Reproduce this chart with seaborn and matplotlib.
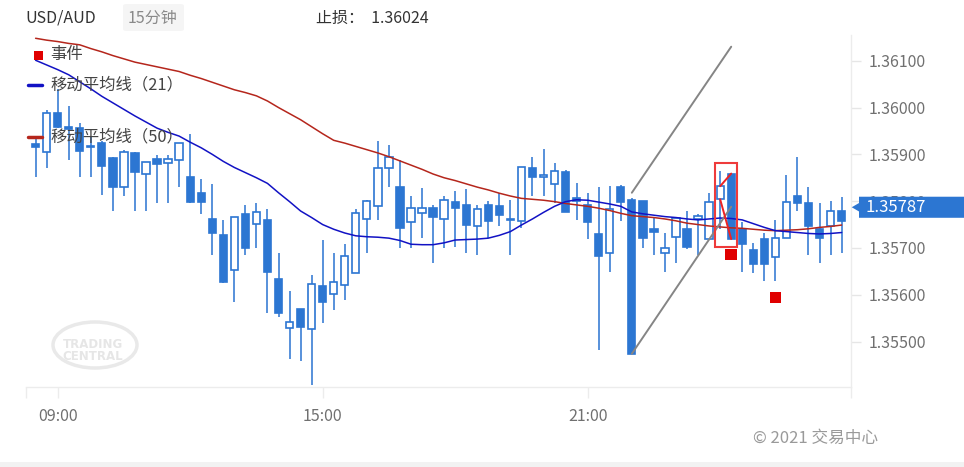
import matplotlib
matplotlib.use("Agg")
import matplotlib.pyplot as plt
import seaborn as sns
import pandas as pd
from matplotlib.patches import Rectangle, Ellipse, Polygon, FancyBboxPatch

# ---------------- data ----------------
candle_idx = list(range(-2, 72))  # 15-minute bars, 0 = 09:00
opens = [1.35922, 1.35906, 1.35989, 1.35957, 1.35957, 1.35918, 1.35925, 1.35893, 1.35831, 1.35903,
         1.35857, 1.35890, 1.35881, 1.35888, 1.35852, 1.35817, 1.35761, 1.35728, 1.35653, 1.35772,
         1.35751, 1.35760, 1.35634, 1.35529, 1.35569, 1.35526, 1.35619, 1.35601, 1.35621, 1.35647,
         1.35762, 1.35790, 1.35870, 1.35830, 1.35756, 1.35774, 1.35785, 1.35761, 1.35798, 1.35792,
         1.35746, 1.35792, 1.35790, 1.35761, 1.35758, 1.35870, 1.35851, 1.35837, 1.35863, 1.35807,
         1.35792, 1.35730, 1.35689, 1.35831, 1.35803, 1.35800, 1.35741, 1.35689, 1.35723, 1.35741,
         1.35761, 1.35719, 1.35804, 1.35859, 1.35740, 1.35696, 1.35719, 1.35680, 1.35721, 1.35811,
         1.35796, 1.35740, 1.35747, 1.35778]
highs = [1.35934, 1.35995, 1.36040, 1.36003, 1.35966, 1.35938, 1.35929, 1.35894, 1.35909, 1.35905,
         1.35884, 1.35899, 1.35899, 1.35924, 1.35943, 1.35847, 1.35836, 1.35760, 1.35767, 1.35792,
         1.35797, 1.35783, 1.35689, 1.35608, 1.35569, 1.35642, 1.35717, 1.35689, 1.35709, 1.35783,
         1.35802, 1.35929, 1.35920, 1.35887, 1.35811, 1.35828, 1.35792, 1.35811, 1.35822, 1.35826,
         1.35792, 1.35800, 1.35817, 1.35803, 1.35874, 1.35894, 1.35911, 1.35882, 1.35867, 1.35838,
         1.35817, 1.35830, 1.35832, 1.35835, 1.35807, 1.35800, 1.35764, 1.35731, 1.35764, 1.35780,
         1.35772, 1.35818, 1.35865, 1.35860, 1.35756, 1.35710, 1.35731, 1.35760, 1.35856, 1.35894,
         1.35831, 1.35797, 1.35801, 1.35808]
lows = [1.35852, 1.35870, 1.35956, 1.35888, 1.35852, 1.35851, 1.35813, 1.35780, 1.35810, 1.35778,
        1.35780, 1.35796, 1.35796, 1.35831, 1.35796, 1.35773, 1.35685, 1.35626, 1.35585, 1.35685,
        1.35699, 1.35561, 1.35553, 1.35463, 1.35459, 1.35408, 1.35539, 1.35568, 1.35589, 1.35647,
        1.35690, 1.35760, 1.35831, 1.35699, 1.35699, 1.35721, 1.35667, 1.35699, 1.35703, 1.35690,
        1.35685, 1.35721, 1.35746, 1.35685, 1.35742, 1.35811, 1.35811, 1.35796, 1.35776, 1.35760,
        1.35719, 1.35482, 1.35649, 1.35758, 1.35474, 1.35699, 1.35685, 1.35649, 1.35667, 1.35697,
        1.35685, 1.35719, 1.35741, 1.35719, 1.35649, 1.35647, 1.35630, 1.35630, 1.35721, 1.35778,
        1.35685, 1.35667, 1.35685, 1.35690]
closes = [1.35915, 1.35989, 1.35959, 1.35955, 1.35908, 1.35915, 1.35875, 1.35831, 1.35904, 1.35863,
          1.35884, 1.35879, 1.35890, 1.35924, 1.35798, 1.35799, 1.35733, 1.35628, 1.35767, 1.35699,
          1.35776, 1.35649, 1.35562, 1.35541, 1.35531, 1.35623, 1.35585, 1.35627, 1.35683, 1.35775,
          1.35800, 1.35870, 1.35894, 1.35742, 1.35786, 1.35785, 1.35766, 1.35803, 1.35785, 1.35749,
          1.35783, 1.35758, 1.35771, 1.35759, 1.35874, 1.35851, 1.35856, 1.35865, 1.35776, 1.35801,
          1.35756, 1.35683, 1.35783, 1.35799, 1.35474, 1.35721, 1.35735, 1.35699, 1.35764, 1.35702,
          1.35768, 1.35799, 1.35832, 1.35719, 1.35708, 1.35666, 1.35666, 1.35721, 1.35799, 1.35796,
          1.35747, 1.35721, 1.35778, 1.35758]
ma21 = [1.36101, 1.36091, 1.36081, 1.36070, 1.36055, 1.36040, 1.36024, 1.36010, 1.35996, 1.35982,
        1.35969, 1.35956, 1.35947, 1.35939, 1.35926, 1.35914, 1.35900, 1.35885, 1.35872, 1.35861,
        1.35850, 1.35838, 1.35818, 1.35799, 1.35779, 1.35765, 1.35750, 1.35740, 1.35732, 1.35726,
        1.35724, 1.35723, 1.35721, 1.35716, 1.35708, 1.35707, 1.35707, 1.35711, 1.35717, 1.35718,
        1.35719, 1.35721, 1.35727, 1.35735, 1.35749, 1.35762, 1.35776, 1.35789, 1.35799, 1.35803,
        1.35802, 1.35798, 1.35794, 1.35789, 1.35777, 1.35773, 1.35770, 1.35767, 1.35765, 1.35762,
        1.35760, 1.35762, 1.35764, 1.35763, 1.35760, 1.35752, 1.35744, 1.35737, 1.35735, 1.35733,
        1.35731, 1.35730, 1.35731, 1.35733]
ma50 = [1.36148, 1.36144, 1.36141, 1.36137, 1.36134, 1.36126, 1.36119, 1.36111, 1.36104, 1.36097,
        1.36092, 1.36087, 1.36082, 1.36077, 1.36069, 1.36062, 1.36054, 1.36046, 1.36038, 1.36032,
        1.36025, 1.36014, 1.36000, 1.35987, 1.35974, 1.35959, 1.35944, 1.35930, 1.35924, 1.35917,
        1.35910, 1.35903, 1.35895, 1.35886, 1.35877, 1.35868, 1.35858, 1.35850, 1.35844, 1.35837,
        1.35830, 1.35824, 1.35817, 1.35811, 1.35806, 1.35804, 1.35802, 1.35799, 1.35795, 1.35792,
        1.35789, 1.35785, 1.35780, 1.35774, 1.35769, 1.35767, 1.35765, 1.35762, 1.35758, 1.35753,
        1.35750, 1.35747, 1.35745, 1.35743, 1.35742, 1.35740, 1.35738, 1.35737, 1.35738, 1.35739,
        1.35741, 1.35744, 1.35746, 1.35749]
event_idx = [61, 65]
event_price = [1.35686, 1.35594]
trend_upper_idx = [52, 61]
trend_upper_price = [1.35818, 1.36130]
trend_lower_idx = [52, 61]
trend_lower_price = [1.35474, 1.35788]
pattern_bars = [60, 61]
pattern_box_idx = [59.55, 61.56]
pattern_box_price = [1.35703, 1.35882]
last_price = 1.35787
stop_loss = "1.36024"
y_ticks = [1.355, 1.356, 1.357, 1.358, 1.359, 1.360, 1.361]
x_tick_pos = [0, 24, 48]
x_tick_labels = ["09:00", "15:00", "21:00"]

# ---------------- style ----------------
sns.set_theme(style="white")
plt.rcParams['font.family'] = ['Noto Sans CJK SC', 'DejaVu Sans']

W, H = 964, 467
fig = plt.figure(figsize=(W / 100, H / 100), dpi=100)
fig.patch.set_facecolor("white")

def fx(px):
    return px / W

def fy(py):
    return 1 - py / H

ax = fig.add_axes([fx(26), fy(387), fx(825), 352 / H])
ax.set_facecolor("white")

blue = "#2c76d2"
wick_c = "#4a88d8"
df = pd.DataFrame({"i": candle_idx, "o": opens, "h": highs, "l": lows, "c": closes,
                   "ma21": ma21, "ma50": ma50})

bw = 0.66
min_h = 0.000035
for _, r in df.iterrows():
    ax.vlines(r.i, r.l, r.h, color=wick_c, lw=1.3, zorder=2)
    bottom = min(r.o, r.c)
    height = max(abs(r.c - r.o), min_h)
    bear = r.c < r.o
    ax.add_patch(Rectangle((r.i - bw / 2, bottom), bw, height,
                           facecolor=blue if bear else "white",
                           edgecolor=blue, lw=1.2, zorder=3))

sns.lineplot(data=df, x="i", y="ma50", color="#b5261c", lw=1.1, ax=ax, zorder=4)
sns.lineplot(data=df, x="i", y="ma21", color="#1212c4", lw=1.1, ax=ax, zorder=4)

# trend lines
ax.plot(trend_upper_idx, trend_upper_price, color="#858585", lw=1.4, zorder=5)
ax.plot(trend_lower_idx, trend_lower_price, color="#858585", lw=1.4, zorder=5)

# pattern highlight
ax.add_patch(Rectangle((pattern_box_idx[0], pattern_box_price[0]),
                       pattern_box_idx[1] - pattern_box_idx[0],
                       pattern_box_price[1] - pattern_box_price[0],
                       fill=False, edgecolor="#ee3b3b", lw=1.5, zorder=6))
a, b = pattern_bars
di = df.set_index("i")
ax.plot([a, b], [di.c[a], di.o[b]], color="#ee2222", lw=1.4, zorder=6)
ax.plot([a, b], [di.o[a], di.c[b]], color="#ee2222", lw=1.4, zorder=6)

# events
sns.scatterplot(x=event_idx, y=event_price, marker="s", s=70, color="#e00000",
                edgecolor="none", ax=ax, zorder=7)

ax.set_xlim(-2.87, 71.85)
ax.set_ylim(1.35403, 1.36155)
ax.set_xlabel("")
ax.set_ylabel("")

ax.yaxis.tick_right()
ax.set_yticks(y_ticks)
ax.set_yticklabels([f"{v:.5f}" for v in y_ticks])
ax.tick_params(axis="y", which="both", right=True, left=False, length=7, width=1,
               color="#e6e6e6", labelcolor="#707070", labelsize=11.5, pad=6)
ax.set_xticks(x_tick_pos)
ax.set_xticklabels(x_tick_labels)
ax.set_xticks([-2.87, 71.85], minor=True)
ax.tick_params(axis="x", which="both", bottom=True, length=8, width=1,
               color="#ececec", labelcolor="#707070", labelsize=11.5, pad=7)
for s in ["left", "top"]:
    ax.spines[s].set_visible(False)
for s in ["right", "bottom"]:
    ax.spines[s].set_color("#ececec")
    ax.spines[s].set_linewidth(1)
ax.grid(False)

# current price label
hh = 0.000225
ah = 0.00009
x0, x1, x2 = 1.0009, 1.0097, 1.14
pts = [(x0, last_price), (x1, last_price + ah), (x1, last_price + hh), (x2, last_price + hh),
       (x2, last_price - hh), (x1, last_price - hh), (x1, last_price - ah)]
trans = ax.get_yaxis_transform()
ax.add_patch(Polygon(pts, closed=True, facecolor=blue, edgecolor="none",
                     transform=trans, clip_on=False, zorder=10))
ax.text(1.017, last_price, f"{last_price:.5f}", transform=trans, color="white",
        fontsize=12, va="center", ha="left", zorder=11, clip_on=False)

# header
fig.text(fx(25), fy(18), "USD/AUD", color="#333333", fontsize=11.5, va="center", ha="left")
fig.patches.append(FancyBboxPatch((fx(123), fy(31)), fx(61), 27 / H,
                                  boxstyle="round,pad=0,rounding_size=0.004",
                                  transform=fig.transFigure, facecolor="#f5f5f5",
                                  edgecolor="none", zorder=0))
fig.text(fx(128), fy(18), "15分钟", color="#8a8a8a", fontsize=11.5, va="center", ha="left")
fig.text(fx(316), fy(18), "止损：  " + stop_loss, color="#333333", fontsize=11.5,
         va="center", ha="left")

# legend
fig.patches.append(Rectangle((fx(34), fy(59.5)), fx(8.5), 8.5 / H, transform=fig.transFigure,
                             facecolor="#e00000", edgecolor="none", zorder=20))
fig.text(fx(50), fy(55), "事件", color="#444444", fontsize=11.8, va="center", ha="left", zorder=20)
fig.lines.append(plt.Line2D([fx(28), fx(42)], [fy(85), fy(85)], transform=fig.transFigure,
                            color="#1212c4", lw=2.5, zorder=20))
fig.text(fx(50), fy(85), "移动平均线（21）", color="#444444", fontsize=11.8, va="center",
         ha="left", zorder=20)
fig.lines.append(plt.Line2D([fx(28), fx(42)], [fy(137), fy(137)], transform=fig.transFigure,
                            color="#b5261c", lw=2.5, zorder=20))
fig.text(fx(50), fy(137), "移动平均线（50）", color="#444444", fontsize=11.8, va="center",
         ha="left", zorder=20)

# watermark
fig.patches.append(Ellipse((fx(95), fy(345)), fx(84), 46 / H, transform=fig.transFigure,
                           fill=False, edgecolor="#e9e9e9", lw=2.5, zorder=1))
fig.text(fx(93), fy(345), "TRADING", color="#e6e6e6", fontsize=8.5, fontweight="bold",
         ha="center", va="center", family="DejaVu Sans")
fig.text(fx(93), fy(357), "CENTRAL", color="#e6e6e6", fontsize=8.5, fontweight="bold",
         ha="center", va="center", family="DejaVu Sans")

# footer
fig.text(fx(753), fy(438), "© 2021 交易中心", color="#9a9a9a", fontsize=12, va="center", ha="left")
fig.patches.append(Rectangle((0, 0), 1, 5 / H, transform=fig.transFigure,
                             facecolor="#f2f2f2", edgecolor="none", zorder=0))

fig.savefig("out.png", dpi=100)
